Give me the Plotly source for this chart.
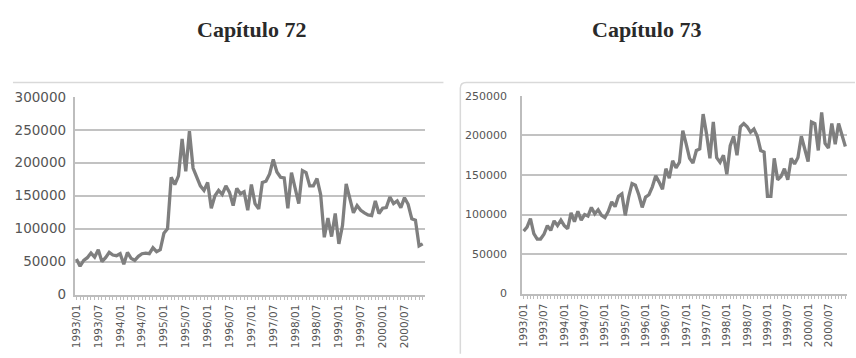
import plotly.graph_objects as go

# Monthly periods, 1993/01 .. 2000/12
months = [f"{y}/{m:02d}" for y in range(1993, 2001) for m in range(1, 13)]
tick_labels = [m if i % 6 == 0 else "" for i, m in enumerate(months)]

# Capítulo 72 (monthly values)
cap72 = [
    54000, 43000, 52000, 56000, 63000, 57000, 68000, 50000, 56000, 64000, 60000, 59000,
    62000, 46000, 64000, 55000, 52000, 58000, 62000, 63000, 62000, 71000, 65000, 68000,
    93000, 100000, 178000, 167000, 180000, 236000, 187000, 248000, 192000, 178000, 165000, 158000,
    170000, 131000, 150000, 158000, 152000, 165000, 155000, 135000, 161000, 153000, 156000, 128000,
    167000, 138000, 130000, 170000, 172000, 183000, 205000, 186000, 178000, 177000, 131000, 185000,
    160000, 138000, 188000, 185000, 165000, 165000, 176000, 152000, 87000, 116000, 88000, 123000,
    77000, 105000, 168000, 148000, 124000, 135000, 128000, 124000, 121000, 120000, 142000, 123000,
    131000, 132000, 148000, 138000, 142000, 132000, 147000, 137000, 115000, 113000, 74000, 77000,
]

# Capítulo 73 (monthly values)
cap73 = [
    79000, 84000, 95000, 76000, 69000, 69000, 75000, 86000, 80000, 92000, 86000, 93000,
    86000, 82000, 102000, 91000, 104000, 93000, 100000, 98000, 109000, 101000, 106000, 99000,
    96000, 104000, 116000, 110000, 123000, 126000, 99000, 122000, 139000, 137000, 125000, 109000,
    122000, 125000, 135000, 149000, 141000, 132000, 158000, 146000, 168000, 159000, 166000, 206000,
    189000, 171000, 165000, 181000, 183000, 227000, 202000, 171000, 217000, 172000, 166000, 175000,
    151000, 187000, 199000, 175000, 211000, 215000, 211000, 204000, 208000, 199000, 181000, 179000,
    123000, 123000, 171000, 144000, 148000, 158000, 144000, 171000, 164000, 172000, 199000, 183000,
    167000, 217000, 215000, 181000, 229000, 190000, 184000, 215000, 189000, 215000, 199000, 186000,
]

W, H = 856, 358
LINE = "#7f7f7f"
GRID = "#c2c2c2"
TXT = "#555555"
BORDER = "#d9d9d9"


def px_x(v):
    return v / W


def px_y(v):
    return 1 - v / H


fig = go.Figure()
fig.add_trace(go.Scatter(x=months, y=cap72, mode="lines", xaxis="x", yaxis="y",
                         line=dict(color=LINE, width=3.3), hoverinfo="x+y", showlegend=False))
fig.add_trace(go.Scatter(x=months, y=cap73, mode="lines", xaxis="x2", yaxis="y2",
                         line=dict(color=LINE, width=3.3), hoverinfo="x+y", showlegend=False))

xcommon = dict(type="category", categoryorder="array", categoryarray=months,
               range=[-0.5, len(months) - 0.5], tickmode="array",
               tickvals=months, ticktext=tick_labels, tickangle=-90,
               ticks="outside", ticklen=4, tickwidth=1, tickcolor="#bdbdbd",
               showline=True, linecolor="#bdbdbd", linewidth=1.5,
               showgrid=False, zeroline=False,
               tickfont=dict(family="DejaVu Sans", size=10.5, color=TXT))

ycommon = dict(showgrid=True, gridcolor=GRID, gridwidth=1.5, zeroline=False,
               showline=True, linecolor="#bdbdbd", linewidth=1.5, ticks="",
               tickformat="d", dtick=50000)

fig.update_layout(
    width=W, height=H,
    margin=dict(l=0, r=0, t=0, b=0),
    paper_bgcolor="white", plot_bgcolor="white",
    xaxis=dict(domain=[px_x(70), px_x(422)], anchor="y", **xcommon),
    yaxis=dict(domain=[px_y(300), px_y(93)], anchor="x", range=[0, 300000],
               ticklabelstandoff=4,
               tickfont=dict(family="DejaVu Sans", size=13.5, color=TXT), **ycommon),
    xaxis2=dict(domain=[px_x(520), px_x(847)], anchor="y2", **xcommon),
    yaxis2=dict(domain=[px_y(299), px_y(92)], anchor="x2", range=[0, 250000],
                ticklabelstandoff=11,
                tickfont=dict(family="DejaVu Sans", size=11, color=TXT), **ycommon),
)

# Chapter titles
for label, cx in (("Capítulo 72", 248), ("Capítulo 73", 645)):
    fig.add_annotation(x=px_x(cx), y=px_y(22), xref="paper", yref="paper",
                       text=f"<b>{label}</b>", showarrow=False,
                       xanchor="center", yanchor="middle",
                       font=dict(family="Liberation Serif", size=22, color="#2a2a2a"))

# Chart frames
fig.add_shape(type="line", xref="paper", yref="paper",
              x0=px_x(8), x1=px_x(441), y0=px_y(78), y1=px_y(78),
              line=dict(color=BORDER, width=1.5))
r = 6
path = (f"M {px_x(458)},{px_y(362)} L {px_x(458)},{px_y(78 + r)} "
        f"Q {px_x(458)},{px_y(78)} {px_x(458 + r)},{px_y(78)} L {px_x(855)},{px_y(78)}")
fig.add_shape(type="path", xref="paper", yref="paper", path=path,
              line=dict(color=BORDER, width=1.5))

fig.write_html("out.html")
